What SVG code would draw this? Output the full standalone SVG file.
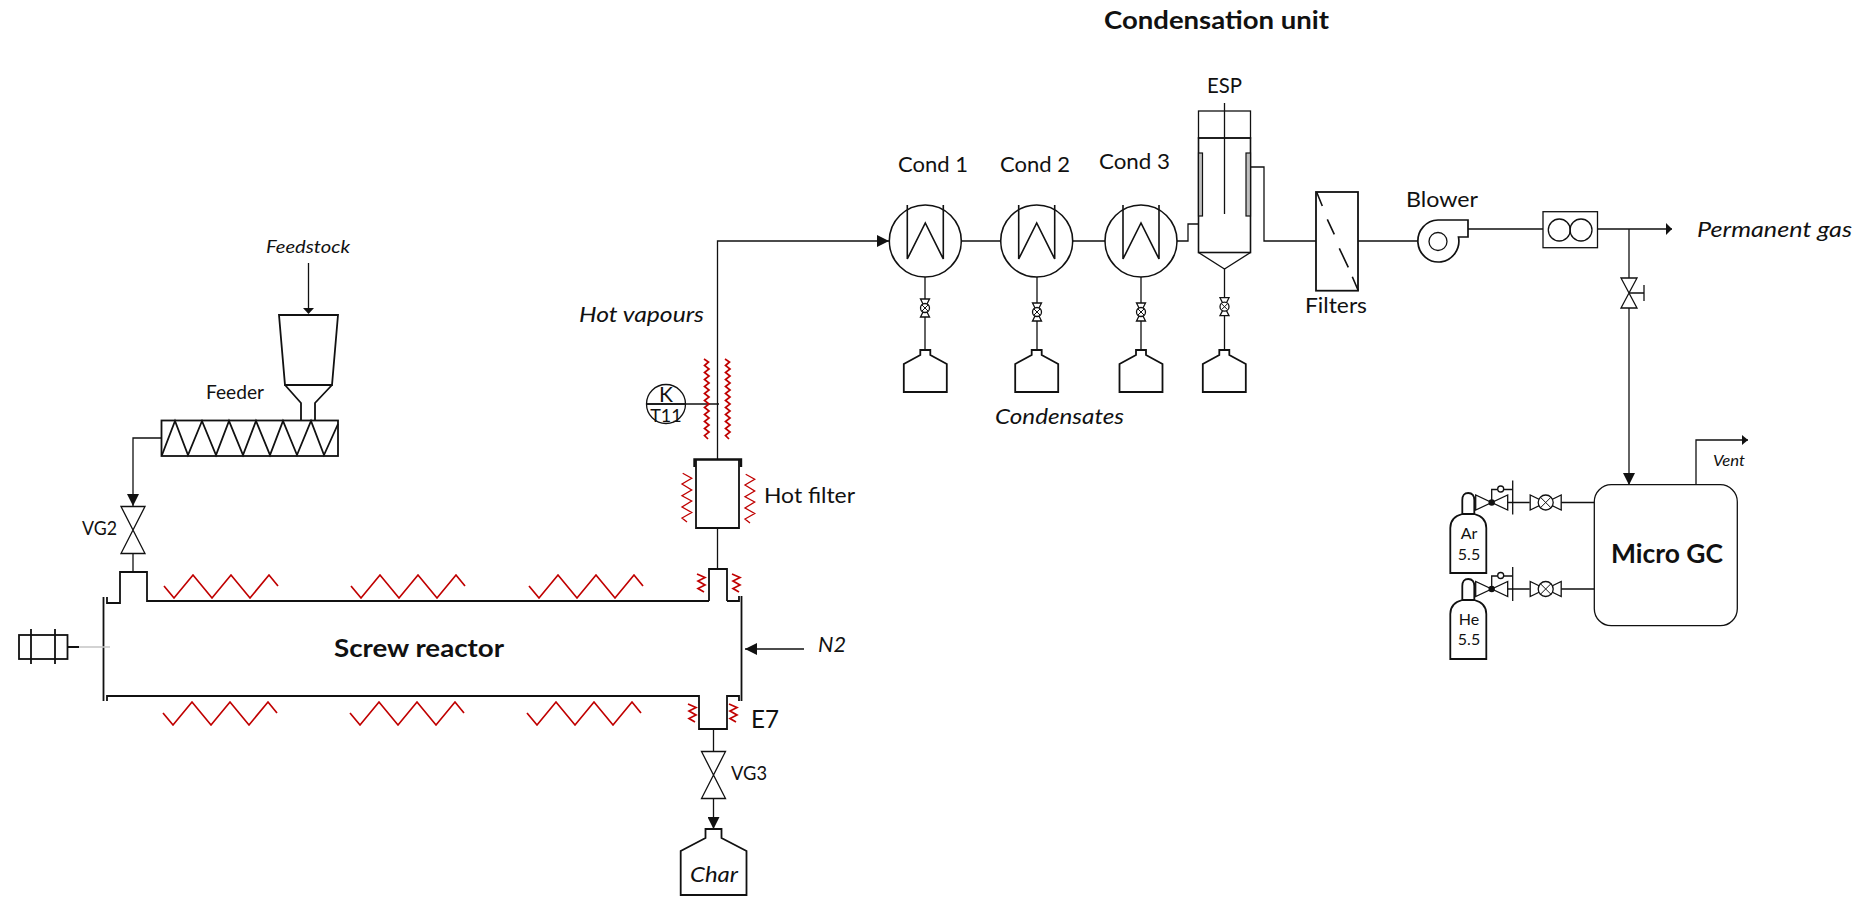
<svg xmlns="http://www.w3.org/2000/svg" xmlns:xlink="http://www.w3.org/1999/xlink" width="1861" height="897" viewBox="0 0 1861 897">
<style>
text{font-family:Lato,"Open Sans","Liberation Sans",sans-serif;fill:#111}
.i{font-style:italic}.b{font-weight:700}
.l{fill:none;stroke:#111;stroke-width:1.300}
.v{fill:none;stroke:#111;stroke-width:1.800}
.f{fill:#fff;stroke:#111;stroke-width:1.300}
.k{fill:#111;stroke:none}
.h{fill:none;stroke:#c00000;stroke-width:1.700;stroke-linejoin:miter}
.p{fill:#bfbfbf;stroke:#111;stroke-width:1.200}
</style>
<defs>
<marker id="a12" markerUnits="userSpaceOnUse" markerWidth="12" markerHeight="12" refX="12" refY="6" orient="auto"><path d="M0 0L12 6L0 12Z" fill="#111"/></marker>
<marker id="a6" markerUnits="userSpaceOnUse" markerWidth="6" markerHeight="12" refX="6" refY="6" orient="auto"><path d="M0 0L6 6L0 12Z" fill="#111"/></marker>
<marker id="a5" markerUnits="userSpaceOnUse" markerWidth="6" markerHeight="12" refX="6" refY="6" orient="auto"><path d="M0 1L6 6L0 11Z" fill="#111"/></marker>
<g id="bottle"><path class="v" d="M-5 0H5V5L21.500 14V42H-21.500V14L-5 5Z" style="fill:#fff"/></g>
<g id="sv"><path class="f" d="M-4.500 -9H4.500L-4.500 9H4.500Z"/><circle class="f" r="4.500"/><path class="l" d="M-3 -3L3 3M3 -3L-3 3" style="stroke-width:1"/></g>
<g id="cond"><circle class="f" r="36" style="stroke-width:1.600"/><path class="l" d="M-18 -36V18L0 -18L18 18V-36" style="stroke-width:1.600"/></g>
<g id="bow"><path class="f" d="M-12 -23.500H12L-12 23.500H12Z"/></g>
<polyline id="waveL" class="h" points="704,359 708.500,362 704.500,365.500 709,369 704.500,372.500 709,376 704.500,379.500 709,383 704.500,386.500 709,390 704.500,393.500 709,397 704.500,400.500 709,404 704.500,407.500 709,411 704.500,414.500 709,418 704.500,421.500 709,425 704.500,428.500 709,432 704.500,435.500 708,439"/>
<polyline id="zf" class="h" style="stroke-width:1.300" points="682.700,473.300 691.700,478.300 682,484 691.700,490 682,495.700 691.700,501 682,507 691.700,512.500 682,518 687,522"/>
<polyline id="zs" class="h" points="697,574 705,577.500 698,581 705,585 698,588.500 704,592"/>
<polyline id="zt" class="h" points="0,0 10,12 29,-11 48,12 67,-11 86,12 105,-11 114,0"/>
<g id="needle"><path class="f" d="M-15.500 -7.500V7.500L15.500 -7.500V7.500Z"/><circle class="f" r="7.500"/><path class="l" d="M-5.300 -5.300L5.300 5.300M5.300 -5.300L-5.300 5.300" style="stroke-width:1"/></g>
<g id="reg"><path class="f" d="M-16 -7.500V7.500L16 -7.500V7.500Z"/><circle class="k" r="3.200"/><path class="l" d="M0 0V-13H9M12 -13H21"/><circle class="f" cx="9" cy="-13.500" r="3"/><path class="l" d="M21 -22V12M16 0H38"/></g>
<path id="cyl" class="v" d="M-6 21V7Q-6 0 0 0T6 7V21M-6 21Q-18 24 -18 35V80H18V35Q18 24 6 21Z" style="fill:#fff"/>
</defs>

<g id="connectors">
<path class="l" d="M308.500 263V309"/>
<path class="k" d="M303 308H314L308.500 314Z"/>
<path class="l" d="M161 438H133V506" marker-end="url(#a12)"/>
<path class="l" d="M133 553V572"/>
<path class="l" d="M717.500 459V241H889" marker-end="url(#a12)"/>
<path class="l" d="M646 404H719"/>
<path class="l" d="M717.500 528V569"/>
<path class="l" d="M804 649H745" marker-end="url(#a12)"/>
<path class="l" d="M713.500 729V751M713.500 798V829" marker-end="url(#a12)"/>
<path class="l" d="M961 241H1001M1073 241H1105M1177 241H1188V224H1198.500"/>
<path class="l" d="M925 277V350M1037 277V350M1141 277V350M1224.500 269V350"/>
<path class="l" d="M1251 167H1264V241H1316M1358 241H1417"/>
<path class="l" d="M1468 229H1543M1597.500 229H1672" marker-end="url(#a6)"/>
<path class="l" d="M1629 229V280M1629 308V485" marker-end="url(#a12)"/>
<path class="l" d="M1696 484V440H1748" marker-end="url(#a5)"/>
<path class="l" d="M1561 502.500H1594M1561 589H1594"/>
</g>

<g id="feedstock-label"><text class="i" x="266" y="253" font-size="18" textLength="84" lengthAdjust="spacingAndGlyphs">Feedstock</text></g>
<g id="hopper"><path class="v" d="M279 315H338L332 385H285Z"/><path class="v" d="M285 385L301 403V420M332 385L315 403V420"/></g>
<g id="feeder"><text x="206" y="399" font-size="18.500" textLength="58" lengthAdjust="spacingAndGlyphs">Feeder</text>
<rect class="v" x="161.500" y="420.500" width="176.500" height="35.500"/>
<path class="v" d="M162 455L175 421L188 455L202 421L216 455L229 421L243 455L256 421L270 455L283 421L297 455L311 421L324 455L338 424"/></g>
<g id="vg2"><use xlink:href="#bow" x="133" y="530"/><text x="82" y="535" font-size="18.500" textLength="35" lengthAdjust="spacingAndGlyphs">VG2</text></g>

<g id="screw-reactor">
<path class="v" d="M107 597V603H120V572H147V601H709M727 601H739V596"/>
<path class="v" d="M107 701V696H699V729H727V696H739V701"/>
<path class="v" d="M103.500 597V701M741.500 596V701"/>
<path class="v" d="M709 601V569H727V601"/>
<use xlink:href="#zt" x="164" y="586"/><use xlink:href="#zt" x="351" y="586"/><use xlink:href="#zt" x="529" y="586"/>
<use xlink:href="#zt" x="163" y="713"/><use xlink:href="#zt" x="350" y="713"/><use xlink:href="#zt" x="527" y="713"/>
<use xlink:href="#zs"/><use xlink:href="#zs" x="35"/><use xlink:href="#zs" x="-9" y="130"/><use xlink:href="#zs" x="32" y="130"/>
<text class="b" x="334" y="657" font-size="25" textLength="170" lengthAdjust="spacingAndGlyphs">Screw reactor</text>
</g>
<g id="motor"><rect class="v" x="19" y="635" width="48.500" height="24"/><path class="v" d="M31 629V664M55 629V664M68 647H79"/><path d="M79 647H110" fill="none" stroke="#c4c4c4" stroke-width="1.500"/></g>
<g id="e7"><text x="751" y="728" font-size="25" textLength="28" lengthAdjust="spacingAndGlyphs">E7</text></g>
<g id="n2"><text class="i" x="818" y="652" font-size="21" textLength="28" lengthAdjust="spacingAndGlyphs">N2</text></g>
<g id="vg3"><use xlink:href="#bow" x="713.500" y="775"/><text x="731" y="780" font-size="18.500" textLength="36" lengthAdjust="spacingAndGlyphs">VG3</text></g>
<g id="char"><path class="v" d="M705.500 829H721.500V838L746.500 851V895H680.700V851L705.500 838Z"/><text class="i" x="690" y="882" font-size="22" textLength="48" lengthAdjust="spacingAndGlyphs">Char</text></g>

<g id="hot-vapours"><text class="i" x="579" y="322" font-size="21" textLength="125" lengthAdjust="spacingAndGlyphs">Hot vapours</text>
<use xlink:href="#waveL"/><use xlink:href="#waveL" x="21"/></g>
<g id="t11"><circle class="l" cx="666" cy="404" r="19.500"/><path class="l" d="M646.500 404H685.500"/>
<text x="666" y="402" font-size="21" text-anchor="middle">K</text><text x="666" y="422" font-size="18" text-anchor="middle">T11</text></g>
<g id="hot-filter"><path class="v" d="M696 460V528H739V460"/><path class="v" d="M694.500 467V459.500H741V467" style="stroke-width:2.400"/>
<use xlink:href="#zf"/><use xlink:href="#zf" x="63" y="1"/>
<text x="764" y="503" font-size="21.500" textLength="91" lengthAdjust="spacingAndGlyphs">Hot filter</text></g>

<g id="title"><text class="b" x="1104" y="29" font-size="24.500" textLength="225" lengthAdjust="spacingAndGlyphs">Condensation unit</text></g>
<g id="cond1"><use xlink:href="#cond" x="925.300" y="241"/><use xlink:href="#sv" x="925" y="308"/><use xlink:href="#bottle" x="925.300" y="350"/><text x="898" y="172" font-size="21.500" textLength="70" lengthAdjust="spacingAndGlyphs">Cond 1</text></g>
<g id="cond2"><use xlink:href="#cond" x="1036.700" y="241"/><use xlink:href="#sv" x="1037" y="312"/><use xlink:href="#bottle" x="1036.700" y="350"/><text x="1000" y="172" font-size="21.500" textLength="70" lengthAdjust="spacingAndGlyphs">Cond 2</text></g>
<g id="cond3"><use xlink:href="#cond" x="1141" y="241"/><use xlink:href="#sv" x="1141" y="312"/><use xlink:href="#bottle" x="1141" y="350"/><text x="1099" y="169" font-size="21.500" textLength="71" lengthAdjust="spacingAndGlyphs">Cond 3</text></g>
<g id="condensates"><text class="i" x="995" y="424" font-size="21.500" textLength="129" lengthAdjust="spacingAndGlyphs">Condensates</text></g>

<g id="esp"><text x="1207" y="93" font-size="21" textLength="35" lengthAdjust="spacingAndGlyphs">ESP</text>
<rect class="l" x="1198.500" y="111" width="52" height="27"/>
<rect class="v" x="1198.500" y="138" width="52" height="114.500" style="stroke-width:1.600"/>
<path class="l" d="M1198.500 252.500L1224.500 269L1250.500 252.500"/>
<path class="l" d="M1224.500 103V214"/>
<rect class="p" x="1198.500" y="153" width="4" height="63"/><rect class="p" x="1246" y="153" width="4.500" height="63"/>
<use xlink:href="#sv" x="1224.500" y="306.700"/><use xlink:href="#bottle" x="1224.300" y="350"/></g>

<g id="filters"><rect class="v" x="1316" y="192" width="42" height="98.700"/>
<path class="l" d="M1316.700 192.300L1322.300 206M1327.300 219.300L1334.300 234.300M1339.300 248.300L1348.300 267.300M1352.300 276.700L1358.300 290.700" style="stroke-width:1.600"/>
<text x="1305" y="313" font-size="21" textLength="62" lengthAdjust="spacingAndGlyphs">Filters</text></g>

<g id="blower"><text x="1406" y="207" font-size="21" textLength="72" lengthAdjust="spacingAndGlyphs">Blower</text>
<path class="v" d="M1438 220H1468V237H1458.500A20.500 21 0 1 1 1438 220Z" style="stroke-width:1.700"/><circle class="l" cx="1438" cy="241.500" r="9"/></g>
<g id="flowmeter"><rect class="l" x="1543" y="211.700" width="54.500" height="36"/><circle class="l" cx="1559.300" cy="230" r="11"/><circle class="l" cx="1581" cy="230" r="11"/></g>
<g id="permanent-gas"><text class="i" x="1697" y="237" font-size="21.500" textLength="155" lengthAdjust="spacingAndGlyphs">Permanent gas</text></g>
<g id="sample-valve"><path class="f" d="M1621 278H1637L1621 308H1637Z"/><path class="l" d="M1629 293H1644M1644 285V301"/></g>

<g id="micro-gc"><rect class="l" x="1594.300" y="484.700" width="143" height="141" rx="17"/>
<text class="b" x="1611" y="563" font-size="26" textLength="112" lengthAdjust="spacingAndGlyphs">Micro GC</text></g>
<g id="vent"><text class="i" x="1713" y="465.700" font-size="14.500" textLength="32" lengthAdjust="spacingAndGlyphs">Vent</text></g>
<g id="ar"><use xlink:href="#reg" x="1491.700" y="502.500"/><use xlink:href="#needle" x="1545.700" y="502.500"/><use xlink:href="#cyl" x="1468.300" y="493"/>
<text x="1469" y="539" font-size="16" text-anchor="middle">Ar</text><text x="1469" y="560" font-size="16" text-anchor="middle">5.5</text></g>
<g id="he"><use xlink:href="#reg" x="1491.700" y="589"/><use xlink:href="#needle" x="1545.700" y="589"/><use xlink:href="#cyl" x="1468.300" y="579"/>
<text x="1469" y="625" font-size="16" text-anchor="middle">He</text><text x="1469" y="645" font-size="16" text-anchor="middle">5.5</text></g>
</svg>
